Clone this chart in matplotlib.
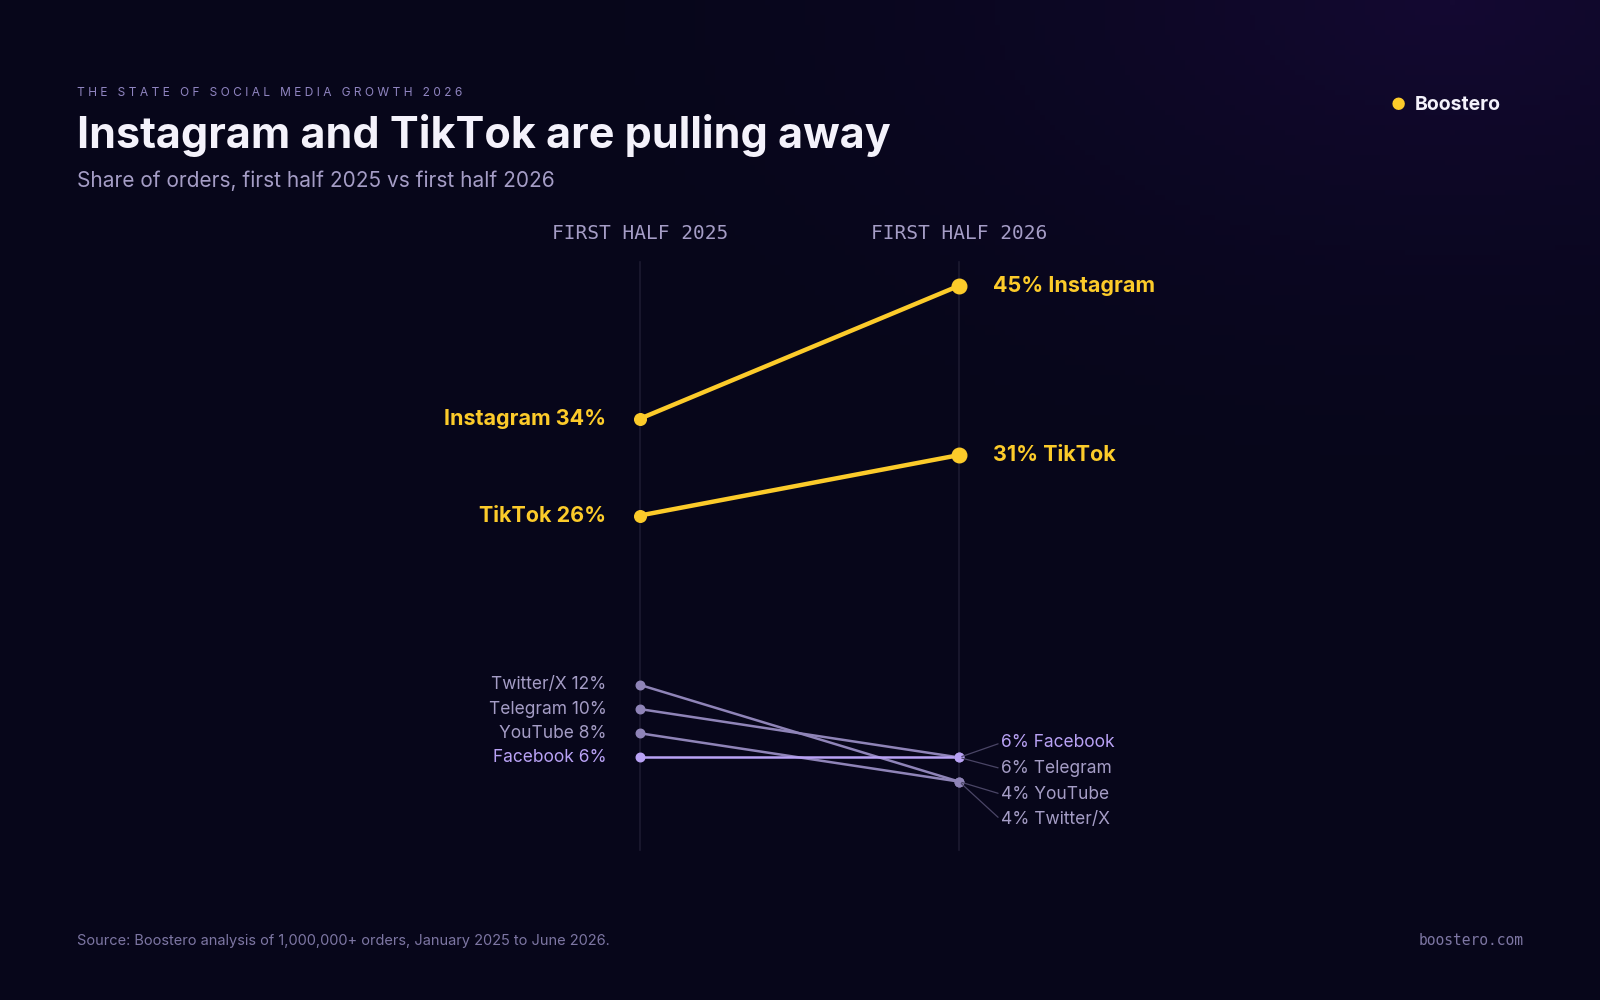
import numpy as np
import matplotlib.pyplot as plt

plt.rcParams['font.family'] = ['Inter', 'DejaVu Sans']

W, H = 1568, 980  # reference layout units

platforms = ["Instagram", "TikTok", "Twitter/X", "Telegram", "YouTube", "Facebook"]
share_2025 = [34, 26, 12, 10, 8, 6]
share_2026 = [45, 31, 4, 6, 4, 6]
highlight = [True, True, False, False, False, False]
# order of the small right-hand labels (top to bottom)
right_order = ["Facebook", "Telegram", "YouTube", "Twitter/X"]

BG = "#07061a"
YEL = "#fccb2a"
LAV = "#8f84b8"
FB = "#b9a2f5"
TXT = "#a59dc6"

fig = plt.figure(figsize=(16, 10), dpi=100)
fig.patch.set_facecolor(BG)

# background glow, top right
bg = fig.add_axes([0, 0, 1, 1])
yy, xx = np.mgrid[0:200, 0:320]
d = np.sqrt(((xx - 290) / 200.0) ** 2 + ((yy - 0) / 110.0) ** 2)
g = np.clip(1 - d, 0, 1) ** 1.8
base = np.array([7, 6, 26]) / 255.0
glow = np.array([20, 9, 50]) / 255.0
img = base + g[..., None] * (glow - base)
bg.imshow(img, aspect="auto", extent=[0, 1, 0, 1], origin="upper")
bg.axis("off")

def fx(px):
    return px / W

def fy(py):
    return 1 - py / H

# slope axes: x 0..1 -> 627..940 px, y 4..45 -> 766..280 px
ax = fig.add_axes([fx(627), fy(766), fx(940) - fx(627), fy(280) - fy(766)])
ax.set_xlim(0, 1)
ax.set_ylim(4, 45)
ax.axis("off")

for x in (0, 1):
    ax.plot([x, x], [-1.65, 46.94], color="#1c1a30", lw=1.2, clip_on=False, zorder=0)

for name, a, b, hl in zip(platforms, share_2025, share_2026, highlight):
    if hl:
        ax.plot([0, 1], [a, b], color=YEL, lw=3.2, clip_on=False, zorder=3)
        ax.scatter([0], [a], s=70, color=YEL, zorder=4, clip_on=False)
        ax.scatter([1], [b], s=110, color=YEL, zorder=4, clip_on=False)
        ax.annotate(f"{name} {a}%", (0, a), xytext=(-24, 0), textcoords="offset points",
                    ha="right", va="center", color=YEL, fontsize=15.5, fontweight="bold")
        ax.annotate(f"{b}% {name}", (1, b), xytext=(24, 0), textcoords="offset points",
                    ha="left", va="center", color=YEL, fontsize=15.5, fontweight="bold")
    else:
        c = FB if name == "Facebook" else LAV
        ax.plot([0, 1], [a, b], color=c, lw=1.8, clip_on=False, zorder=2)
        ax.scatter([0, 1], [a, b], s=38, color=c, zorder=3, clip_on=False)
        ax.annotate(f"{name} {a}%", (0, a), xytext=(-24, 0), textcoords="offset points",
                    ha="right", va="center", color=FB if name == "Facebook" else TXT, fontsize=12.5)

for i, name in enumerate(right_order):
    b = share_2026[platforms.index(name)]
    off_y = [10.5, -8, -26.5, -45][i] + (0 if b == 6 else 17.5)
    col = FB if name == "Facebook" else TXT
    ax.annotate(f"{b}% {name}", (1, b), xytext=(30, off_y), textcoords="offset points",
                ha="left", va="center", color=col, fontsize=12.5,
                arrowprops=dict(arrowstyle="-", color="#4a4566", lw=0.9,
                                shrinkA=0, shrinkB=2, relpos=(0, 0.5)))

# column headers
fig.text(fx(627), fy(229), "FIRST HALF 2025", ha="center", va="center",
         family="DejaVu Sans Mono", fontsize=14, color=TXT)
fig.text(fx(940), fy(229), "FIRST HALF 2026", ha="center", va="center",
         family="DejaVu Sans Mono", fontsize=14, color=TXT)

# titles
fig.text(fx(75), fy(91), "T H E   S T A T E   O F   S O C I A L   M E D I A   G R O W T H   2 0 2 6",
         ha="left", va="center", fontsize=8.6, color="#8f84c0")
fig.text(fx(75), fy(133), "Instagram and TikTok are pulling away", ha="left", va="center",
         fontsize=31, fontweight="bold", color="#f4f2fb")
fig.text(fx(75), fy(177), "Share of orders, first half 2025 vs first half 2026", ha="left",
         va="center", fontsize=15, color="#a59dc6")

# brand
fig.text(fx(1370), fy(103), "●", ha="center", va="center", fontsize=12, color=YEL)
fig.text(fx(1386), fy(103), "Boostero", ha="left", va="center", fontsize=14,
         fontweight="bold", color="#f4f2fb")

# footer
fig.text(fx(75), fy(922), "Source: Boostero analysis of 1,000,000+ orders, January 2025 to June 2026.",
         ha="left", va="center", fontsize=10.5, color="#7d76a3")
fig.text(fx(1493), fy(922), "boostero.com", ha="right", va="center",
         family="DejaVu Sans Mono", fontsize=10.5, color="#7d76a3")

fig.savefig("out.png", dpi=100, facecolor=BG)
